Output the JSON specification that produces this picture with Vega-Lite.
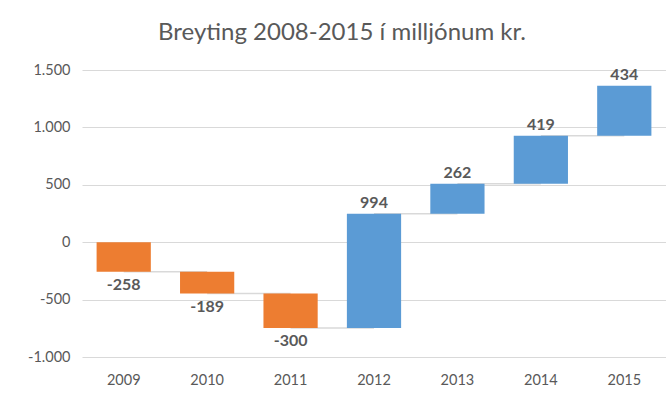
{
  "$schema": "https://vega.github.io/schema/vega-lite/v6.json",
  "autosize": "none",
  "width": 584,
  "height": 287,
  "padding": {"left": 82, "top": 70, "right": 0, "bottom": 51},
  "background": "white",
  "config": {
    "view": {"stroke": null},
    "font": "Lato"
  },
  "title": {
    "text": "Breyting 2008-2015 í milljónum kr.",
    "font": "Lato",
    "fontSize": 24,
    "fontWeight": "normal",
    "color": "#595959",
    "anchor": "middle",
    "dx": -32,
    "offset": 17
  },
  "datasets": {
    "bars": [
      {"year": "2009", "start": 0, "end": -258, "change": -258},
      {"year": "2010", "start": -258, "end": -447, "change": -189},
      {"year": "2011", "start": -447, "end": -747, "change": -300},
      {"year": "2012", "start": -747, "end": 247, "change": 994},
      {"year": "2013", "start": 247, "end": 509, "change": 262},
      {"year": "2014", "start": 509, "end": 928, "change": 419},
      {"year": "2015", "start": 928, "end": 1362, "change": 434}
    ],
    "links": [
      {"from": "2009", "to": "2010", "level": -258},
      {"from": "2010", "to": "2011", "level": -447},
      {"from": "2011", "to": "2012", "level": -747},
      {"from": "2012", "to": "2013", "level": 247},
      {"from": "2013", "to": "2014", "level": 509},
      {"from": "2014", "to": "2015", "level": 928}
    ]
  },
  "encoding": {
    "x": {
      "field": "year",
      "type": "nominal",
      "sort": null,
      "scale": {"domain": ["2009","2010","2011","2012","2013","2014","2015"], "paddingInner": 0.35, "paddingOuter": 0.175},
      "axis": {
        "title": null,
        "domain": false,
        "ticks": false,
        "labelAngle": 0,
        "labelFont": "Lato",
        "labelFontSize": 14.5,
        "labelColor": "#595959",
        "labelPadding": 16
      }
    }
  },
  "layer": [
    {
      "data": {"name": "links"},
      "mark": {"type": "rule", "color": "#d9d9d9", "strokeWidth": 1.5},
      "encoding": {
        "x": {"field": "from", "type": "nominal", "sort": null},
        "x2": {"field": "to"},
        "y": {
          "field": "level",
          "type": "quantitative",
          "scale": {"domain": [-1000, 1500], "nice": false},
          "axis": {
            "title": null,
            "values": [-1000, -500, 0, 500, 1000, 1500],
            "domain": false,
            "ticks": false,
            "gridColor": "#d9d9d9",
            "gridWidth": 1,
            "labelFont": "Lato",
            "labelFontSize": 14.5,
            "labelColor": "#595959",
            "labelPadding": 12,
            "labelExpr": "(datum.value < 0 ? '-' : '') + replace(format(abs(datum.value), ','), ',', '.')"
          }
        }
      }
    },
    {
      "data": {"name": "bars"},
      "mark": {"type": "bar"},
      "encoding": {
        "y": {"field": "start", "type": "quantitative"},
        "y2": {"field": "end"},
        "color": {
          "condition": {"test": "datum.change < 0", "value": "#ED7D31"},
          "value": "#5B9BD5"
        }
      }
    },
    {
      "data": {"name": "bars"},
      "transform": [{"filter": "datum.change > 0"}],
      "mark": {"type": "text", "baseline": "bottom", "dy": -3, "fontWeight": "bold", "fontSize": 16, "font": "Lato", "color": "#595959"},
      "encoding": {
        "y": {"field": "end", "type": "quantitative"},
        "text": {"field": "change", "type": "nominal"}
      }
    },
    {
      "data": {"name": "bars"},
      "transform": [{"filter": "datum.change < 0"}],
      "mark": {"type": "text", "baseline": "top", "dy": 5, "fontWeight": "bold", "fontSize": 16, "font": "Lato", "color": "#595959"},
      "encoding": {
        "y": {"field": "end", "type": "quantitative"},
        "text": {"field": "change", "type": "nominal"}
      }
    }
  ]
}
